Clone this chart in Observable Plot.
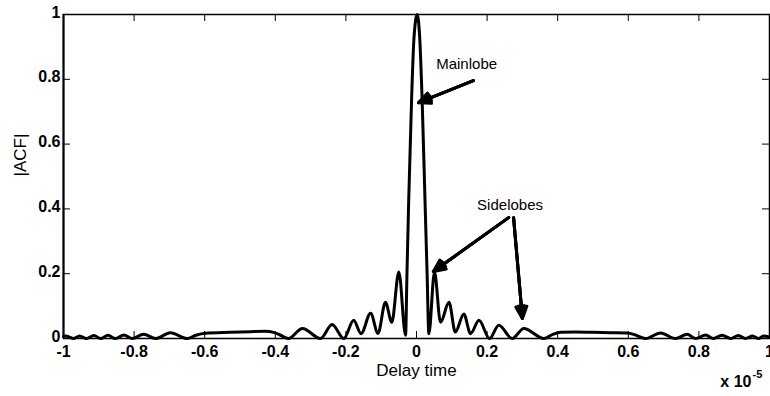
<!DOCTYPE html>
<html>
<head>
<meta charset="utf-8">
<script src="https://cdn.jsdelivr.net/npm/d3@7"></script>
<script src="https://cdn.jsdelivr.net/npm/@observablehq/plot@0.6"></script>
<style>
  html, body { margin: 0; padding: 0; background: #fff; }
</style>
</head>
<body>
<div id="chart"></div>
<script>
// Delay time (units of 1e-5 s) and |ACF|
const delay = [
  -1.000, -0.994, -0.9725, -0.954, -0.935, -0.914, -0.895, -0.874, -0.853, -0.829,
  -0.805, -0.773, -0.739, -0.697, -0.650, -0.625, -0.598, -0.527, -0.470, -0.428,
  -0.405, -0.385, -0.363, -0.323, -0.272, -0.239, -0.206, -0.178, -0.157, -0.130,
  -0.109, -0.088, -0.070, -0.050, -0.031, -0.027, -0.022, -0.014, -0.007, 0.002,
  0.009, 0.016, 0.024, 0.030, 0.035, 0.051, 0.068, 0.092, 0.110, 0.134,
  0.153, 0.177, 0.207, 0.233, 0.271, 0.304, 0.361, 0.385, 0.408, 0.450,
  0.500, 0.550, 0.597, 0.620, 0.649, 0.691, 0.734, 0.767, 0.790, 0.819,
  0.841, 0.866, 0.890, 0.912, 0.932, 0.952, 0.969, 0.983, 1.000
];
const acf = [
  0.006, 0.008, 0.000, 0.008, 0.000, 0.009, 0.000, 0.010, 0.000, 0.011,
  0.000, 0.013, 0.000, 0.018, 0.000, 0.010, 0.016, 0.019, 0.021, 0.022,
  0.019, 0.010, 0.000, 0.031, 0.000, 0.043, 0.000, 0.056, 0.015, 0.078,
  0.016, 0.112, 0.050, 0.205, 0.010, 0.200, 0.430, 0.735, 0.930, 1.000,
  0.930, 0.735, 0.430, 0.200, 0.015, 0.205, 0.050, 0.112, 0.020, 0.076,
  0.015, 0.056, 0.000, 0.041, 0.000, 0.031, 0.000, 0.012, 0.019, 0.020,
  0.019, 0.018, 0.017, 0.011, 0.000, 0.017, 0.000, 0.013, 0.000, 0.011,
  0.000, 0.010, 0.000, 0.009, 0.000, 0.008, 0.000, 0.008, 0.005
];

const xTicks = [-1, -0.8, -0.6, -0.4, -0.2, 0, 0.2, 0.4, 0.6, 0.8, 1];
const yTicks = [0, 0.2, 0.4, 0.6, 0.8, 1];
const xLabel = "Delay time";
const yLabel = "|ACF|";
const xExpBase = "x 10";
const xExpPower = "-5";

// Annotations
const noteText = ["Mainlobe", "Sidelobes"];
const noteX = [0.142, 0.265];
const noteY = [0.846, 0.410];
const arrowX1 = [0.161, 0.261, 0.275];
const arrowY1 = [0.796, 0.373, 0.373];
const arrowX2 = [0.006, 0.048, 0.300];
const arrowY2 = [0.728, 0.207, 0.062];

const series = delay.map((d, i) => ({delay: d, acf: acf[i]}));
const notes = noteText.map((t, i) => ({text: t, x: noteX[i], y: noteY[i]}));
const arrows = arrowX1.map((d, i) => ({x1: d, y1: arrowY1[i], x2: arrowX2[i], y2: arrowY2[i]}));

const font = "'Liberation Sans', Arial, Helvetica, sans-serif";
const fmt = d => String(d);
const arrowStyle = {x1: "x1", y1: "y1", x2: "x2", y2: "y2", stroke: "#000",
  strokeWidth: 3, headLength: 6.5, strokeLinejoin: "miter"};

const chart = Plot.plot({
  width: 770,
  height: 396,
  marginLeft: 63,
  marginRight: 1,
  marginTop: 14,
  marginBottom: 58,
  style: {fontFamily: font, background: "#fff", color: "#000"},
  x: {domain: [-1, 1], axis: null},
  y: {domain: [0, 1], axis: null},
  marks: [
    Plot.frame({stroke: "#000", strokeWidth: 1.5}),
    // inward ticks on all four sides
    Plot.tickX(xTicks, {x: d => d, insetTop: 317, stroke: "#000", strokeWidth: 1}),
    Plot.tickX(xTicks, {x: d => d, insetBottom: 317, stroke: "#000", strokeWidth: 1}),
    Plot.tickY(yTicks, {y: d => d, insetRight: 699, stroke: "#000", strokeWidth: 1}),
    Plot.tickY(yTicks, {y: d => d, insetLeft: 699, stroke: "#000", strokeWidth: 1}),
    Plot.ruleX([-1], {stroke: "#000", strokeWidth: 2}),
    // tick labels
    Plot.text(xTicks, {x: d => d, frameAnchor: "bottom", dy: 18, text: fmt,
      fontSize: 16, fontWeight: "bold", fill: "#000"}),
    Plot.text(yTicks, {y: d => d, frameAnchor: "left", dx: -3, dy: -2, textAnchor: "end", text: fmt,
      fontSize: 16, fontWeight: "bold", fill: "#000"}),
    // axis titles
    Plot.text([xLabel], {x: 0, frameAnchor: "bottom", dy: 37, text: d => d,
      fontSize: 17, fill: "#000"}),
    Plot.text([yLabel], {y: 0.5, frameAnchor: "left", dx: -43, rotate: -90, text: d => d,
      fontSize: 17, fill: "#000"}),
    Plot.text([xExpBase], {frameAnchor: "bottom-right", dx: -18, dy: 48, textAnchor: "end",
      text: d => d, fontSize: 16, fontWeight: "bold", fill: "#000"}),
    Plot.text([xExpPower], {frameAnchor: "bottom-right", dx: -17, dy: 39, textAnchor: "start",
      text: d => d, fontSize: 11, fontWeight: "bold", fill: "#000"}),
    // the ACF curve
    Plot.line(series, {x: "delay", y: "acf", stroke: "#000", strokeWidth: 3,
      curve: "monotone-x", strokeLinejoin: "round"}),
    // annotations
    Plot.text(notes, {x: "x", y: "y", text: "text", fontSize: 15, fill: "#000"}),
    Plot.arrow(arrows, {...arrowStyle, headAngle: 50}),
    Plot.arrow(arrows, {...arrowStyle, headAngle: 30}),
    Plot.arrow(arrows, {...arrowStyle, headAngle: 12})
  ]
});
document.getElementById("chart").appendChild(chart);
</script>
</body>
</html>
